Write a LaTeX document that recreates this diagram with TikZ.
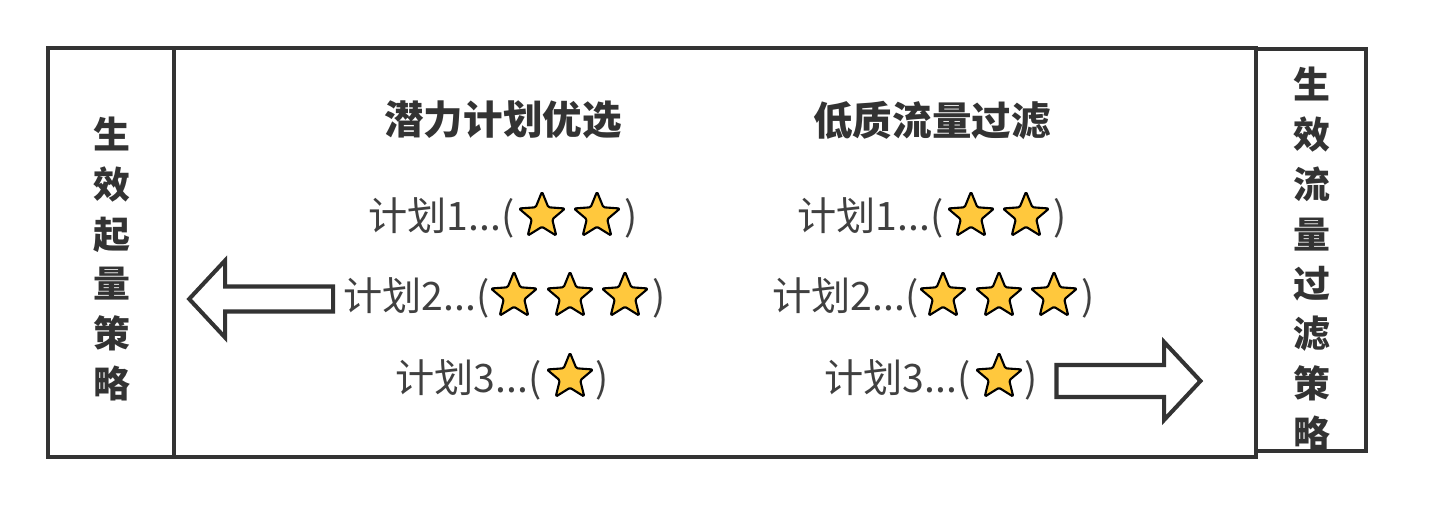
\documentclass[tikz,border=0pt]{standalone}
\usepackage{fontspec}
\setmainfont{Noto Sans CJK SC}
\usetikzlibrary{shapes.geometric,shapes.arrows}
\definecolor{framegray}{HTML}{333333}
\definecolor{textgray}{HTML}{404040}
\definecolor{stargold}{HTML}{FFC83D}

\begin{document}
\begin{tikzpicture}[x=0.02cm,y=-0.02cm,
    frame/.style={draw=framegray, line width=2.3pt, inner sep=0pt},
    title/.style={font=\bfseries\fontsize{22.5}{27}\selectfont, text=framegray},
    plan/.style={font=\fontsize{22.3}{26}\selectfont, text=textgray, inner sep=0pt},
    vtext/.style={font=\bfseries\fontsize{21}{28.45}\selectfont, text=framegray, align=center, inner sep=0pt},
    staricon/.style={star, star points=5, star point ratio=2.25, minimum size=0.97cm, inner sep=0pt,
      draw=black, line width=1.2pt, fill=stargold, line join=round, rounded corners=0.8pt},
    bigarrow/.style={single arrow, draw=framegray, line width=2.3pt, fill=white, line join=miter,
      text height=0pt, text depth=0pt, text width=0pt, inner xsep=0pt,
      minimum height=2.88cm, single arrow tip angle=94, single arrow head indent=0pt}]
    \useasboundingbox (0,0) rectangle (1450,520);

    % boxes
    \node[frame, minimum width=2.52cm, minimum height=8.18cm](leftbox) at (111,252.5){};
    \node[frame, minimum width=21.64cm, minimum height=8.18cm](mainbox) at (715,252.5){};
    \node[frame, minimum width=2.2cm, minimum height=8.04cm](rightbox) at (1311,250){};

    \node[vtext](start) at (112,259){生\\效\\起\\量\\策\\略};
    \node[vtext](filter) at (1312,259){生\\效\\流\\量\\过\\滤\\策\\略};

    % titles
    \node[title](pick) at (503,120){潜力计划优选};
    \node[title](low) at (932,120){低质流量过滤};

    % left column
    \node[plan, anchor=east](plan1_l) at (515,218){计划1...(};
    \node[staricon](s1_l1) at (542,216){};
    \node[staricon](s1_l2) at (597,216){};
    \node[plan](close1_l) at (631,218){)};

    \node[plan, anchor=east](plan2_l) at (490,298){计划2...(};
    \node[staricon](s2_l1) at (514,296){};
    \node[staricon](s2_l2) at (570,296){};
    \node[staricon](s2_l3) at (625,296){};
    \node[plan](close2_l) at (659,298){)};

    \node[plan, anchor=east](plan3_l) at (542,380){计划3...(};
    \node[staricon](s3_l1) at (570,377){};
    \node[plan](close3_l) at (602,380){)};

    % right column
    \node[plan, anchor=east](plan1_r) at (944,218){计划1...(};
    \node[staricon](s1_r1) at (971,216){};
    \node[staricon](s1_r2) at (1026,216){};
    \node[plan](close1_r) at (1060,218){)};

    \node[plan, anchor=east](plan2_r) at (919,298){计划2...(};
    \node[staricon](s2_r1) at (943,296){};
    \node[staricon](s2_r2) at (999,296){};
    \node[staricon](s2_r3) at (1054,296){};
    \node[plan](close2_r) at (1088,298){)};

    \node[plan, anchor=east](plan3_r) at (971,380){计划3...(};
    \node[staricon](s3_r1) at (999,377){};
    \node[plan](close3_r) at (1031,380){)};

    % arrows
    \node[bigarrow, inner ysep=0.21cm, single arrow head extend=0.52cm, shape border rotate=180](toleft) at (267,299){};
    \node[bigarrow, inner ysep=0.28cm, single arrow head extend=0.46cm](toright) at (1121,381){};
  \end{tikzpicture}
\end{document}
